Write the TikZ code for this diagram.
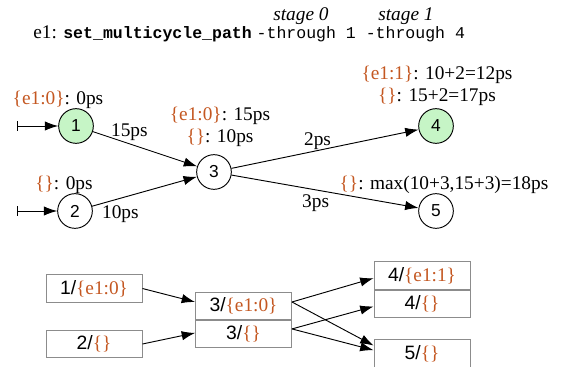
\documentclass[tikz,border=0pt]{standalone}
\usepackage{fontspec}
\setmainfont{Liberation Serif}
\setsansfont{Liberation Sans}
\setmonofont{Liberation Mono}
\usepackage{tikz}
\usetikzlibrary{shapes.geometric, arrows, arrows.meta, positioning}
\definecolor{tagorange}{RGB}{196,88,34}
\definecolor{startgreen}{RGB}{198,245,198}
\newcommand{\ctx}[1]{\textcolor{tagorange}{#1}}
\tikzstyle{vertex} = [circle, minimum size=26pt, inner sep=0pt, line width=0.7pt, draw=black, font=\sffamily\fontsize{13}{13}\selectfont]
\tikzstyle{launch} = [vertex, fill=startgreen]
\tikzstyle{tag} = [inner sep=1pt, align=center, font=\fontsize{14.5}{17}\selectfont]
\tikzstyle{cell} = [rectangle, minimum width=72pt, minimum height=20.5pt, inner sep=0pt, line width=0.7pt, draw=black!45, font=\fontsize{14.5}{17}\selectfont]
\tikzstyle{arrow} = [line width=0.7pt,-{Latex[length=10pt,width=7pt]}]

\begin{document}
\begin{tikzpicture}[x=0.75pt, y=-0.75pt, node distance=0pt]
    \useasboundingbox (0,0) rectangle (561,367);

    % command line
    \node (title) [anchor=base west, inner sep=0pt, font=\fontsize{14.5}{17}\selectfont] at (33,39)
        {e1: {\ttfamily\bfseries\fontsize{12.4}{14}\selectfont set\_multicycle\_path} {\ttfamily\fontsize{12.4}{14}\selectfont -through 1 -through 4}};
    \node (st0) [tag, font=\itshape\fontsize{14.5}{17}\selectfont] at (301,16) {stage 0};
    \node (st1) [tag, font=\itshape\fontsize{14.5}{17}\selectfont] at (406,16) {stage 1};

    % timing graph
    \node (n1) [launch] at (76,126) {1};
    \node (n2) [vertex] at (75,211) {2};
    \node (n3) [vertex] at (214,172) {3};
    \node (n4) [launch] at (436,126) {4};
    \node (n5) [vertex] at (436,211) {5};

    \coordinate (in1) at (17,126);
    \coordinate (in2) at (17,211);

    \node (l1) [tag] at (58,100) {\ctx{\{e1:0\}}: 0ps};
    \node (l2) [tag] at (64,185) {\ctx{\{\}}: 0ps};
    \node (l3) [tag] at (220,127) {\ctx{\{e1:0\}}: 15ps\\\ctx{\{\}}: 10ps};
    \node (l4) [tag] at (437,86) {\ctx{\{e1:1\}}: 10+2=12ps\\\ctx{\{\}}: 15+2=17ps};
    \node (l5) [tag] at (444,185) {\ctx{\{\}}: max(10+3,15+3)=18ps};

    \draw [arrow, {Bar[width=7pt]}-{Latex[length=10pt,width=7pt]}] (in1) -- (n1);
    \draw [arrow, {Bar[width=7pt]}-{Latex[length=10pt,width=7pt]}] (in2) -- (n2);
    \draw [arrow] (n1) -- node[tag, pos=0.35, above, yshift=1pt] {15ps} (n3);
    \draw [arrow] (n2) -- node[tag, pos=0.27, below, yshift=-4pt] {10ps} (n3);
    \draw [arrow] (n3) -- node[tag, pos=0.46, above, yshift=-1pt] {2ps} (n4);
    \draw [arrow] (n3) -- node[tag, pos=0.45, below, yshift=-2pt] {3ps} (n5);

    % tagged copies
    \node (b1) [cell] at (94,288.5) {\textsf{1/}\ctx{\{e1:0\}}};
    \node (b2) [cell] at (94,344) {\textsf{2/}\ctx{\{\}}};
    \node (b3a) [cell] at (243.5,306) {\textsf{3/}\ctx{\{e1:0\}}};
    \node (b3b) [cell, below=of b3a] {\textsf{3/}\ctx{\{\}}};
    \node (b4a) [cell] at (422,275.5) {\textsf{4/}\ctx{\{e1:1\}}};
    \node (b4b) [cell, below=of b4a] {\textsf{4/}\ctx{\{\}}};
    \node (b5) [cell] at (422,353.5) {\textsf{5/}\ctx{\{\}}};

    \draw [arrow] (b1.east) -- ([yshift=3pt]b3a.west);
    \draw [arrow] (b2.east) -- ([yshift=1pt]b3b.west);
    \draw [arrow] ([yshift=3pt]b3a.east) -- ([yshift=-2pt]b4a.west);
    \draw [arrow] ([yshift=3pt]b3a.east) -- ([yshift=6pt]b5.west);
    \draw [arrow] ([yshift=4pt]b3b.east) -- ([yshift=-2pt]b4b.west);
    \draw [arrow] ([yshift=4pt]b3b.east) -- ([yshift=2.5pt]b5.west);

\end{tikzpicture}
\end{document}
